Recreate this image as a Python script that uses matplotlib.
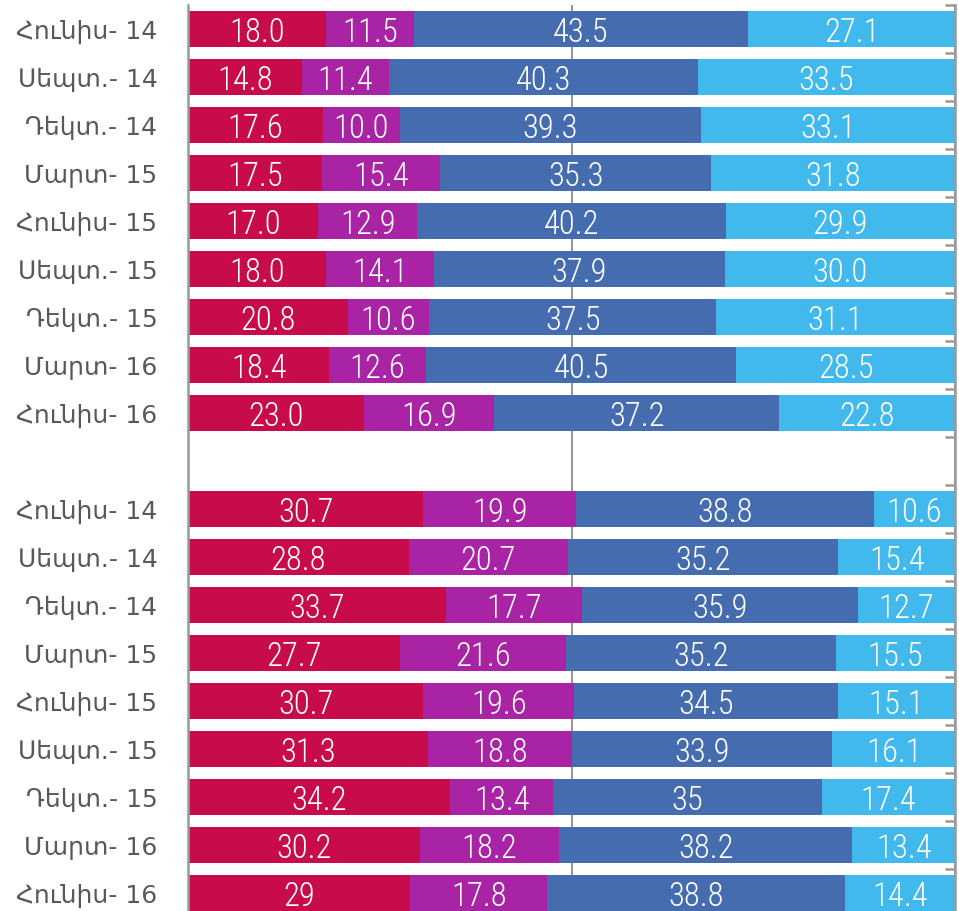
"""
Stacked horizontal bars, two groups of quarterly shares (percent), each row sums to ~100.
"""

import matplotlib
matplotlib.use("Agg")
import matplotlib.pyplot as plt
from matplotlib import font_manager
import numpy as np

CRIMSON = "#C80B4B"
MAGENTA = "#A824A4"
BLUE    = "#466CB0"
SKY     = "#42B9ED"
GRAY    = "#9A9A9A"
TEXT    = "#595959"

periods = ["Հունիս- 14", "Սեպտ.- 14", "Դեկտ.- 14", "Մարտ- 15", "Հունիս- 15",
           "Սեպտ.- 15", "Դեկտ.- 15", "Մարտ- 16", "Հունիս- 16"]

# top group
top_s1 = [18.0, 14.8, 17.6, 17.5, 17.0, 18.0, 20.8, 18.4, 23.0]
top_s2 = [11.5, 11.4, 10.0, 15.4, 12.9, 14.1, 10.6, 12.6, 16.9]
top_s3 = [43.5, 40.3, 39.3, 35.3, 40.2, 37.9, 37.5, 40.5, 37.2]
top_s4 = [27.1, 33.5, 33.1, 31.8, 29.9, 30.0, 31.1, 28.5, 22.8]

# bottom group (ints are printed without decimals, as in the source)
bot_s1 = [30.7, 28.8, 33.7, 27.7, 30.7, 31.3, 34.2, 30.2, 29]
bot_s2 = [19.9, 20.7, 17.7, 21.6, 19.6, 18.8, 13.4, 18.2, 17.8]
bot_s3 = [38.8, 35.2, 35.9, 35.2, 34.5, 33.9, 35, 38.2, 38.8]
bot_s4 = [10.6, 15.4, 12.7, 15.5, 15.1, 16.1, 17.4, 13.4, 14.4]

COLORS = [CRIMSON, MAGENTA, BLUE, SKY]

names = {f.name for f in font_manager.fontManager.ttflist}
VAL_FONT = [f for f in ["Roboto Condensed", "Roboto", "DejaVu Sans"] if f in names]


def fmt(v):
    return str(v) if isinstance(v, int) else f"{v:.1f}"


fig = plt.figure(figsize=(9.59, 9.11), dpi=100, facecolor="white")
ax = fig.add_axes([188 / 959, -6 / 911, (955 - 188) / 959, 912 / 911])

n = len(periods)
pos_top = np.arange(n)
pos_bot = np.arange(n) + n + 1
positions = np.concatenate([pos_top, pos_bot])
labels = periods + periods

series = [top_s1 + bot_s1, top_s2 + bot_s2, top_s3 + bot_s3, top_s4 + bot_s4]

left = np.zeros(len(positions))
for vals, col in zip(series, COLORS):
    v = np.array(vals, dtype=float)
    ax.barh(positions, v, left=left, height=0.75, color=col, edgecolor="none", zorder=2)
    for y, l, w, raw in zip(positions, left, v, vals):
        ax.text(l + w / 2, y, fmt(raw), ha="center", va="center_baseline",
                fontsize=23.5, color="white", zorder=3, fontweight="light",
                family=VAL_FONT)
    left += v

ax.set_xlim(0, 100)
ax.set_ylim(2 * n + 0.5, -0.5)
ax.set_xticks([0, 50, 100])
ax.xaxis.grid(True, color=GRAY, linewidth=1.5, zorder=0)
ax.tick_params(axis="x", bottom=False, labelbottom=False)

ax.set_yticks(positions)
ax.set_yticklabels(labels, fontsize=18, color=TEXT, family=["DejaVu Sans"])
ax.tick_params(axis="y", which="major", length=0, pad=22)

# boundary ticks on the right spine
ax.set_yticks(np.arange(-0.5, 2 * n + 1), minor=True)
ax.tick_params(axis="y", which="minor", left=False, right=True, direction="in",
               length=7, width=1.8, color=GRAY)

for side in ["top", "bottom"]:
    ax.spines[side].set_visible(False)
for side in ["left", "right"]:
    ax.spines[side].set_color(GRAY)
    ax.spines[side].set_linewidth(1.8)

fig.savefig("out.png", dpi=100, facecolor="white")
